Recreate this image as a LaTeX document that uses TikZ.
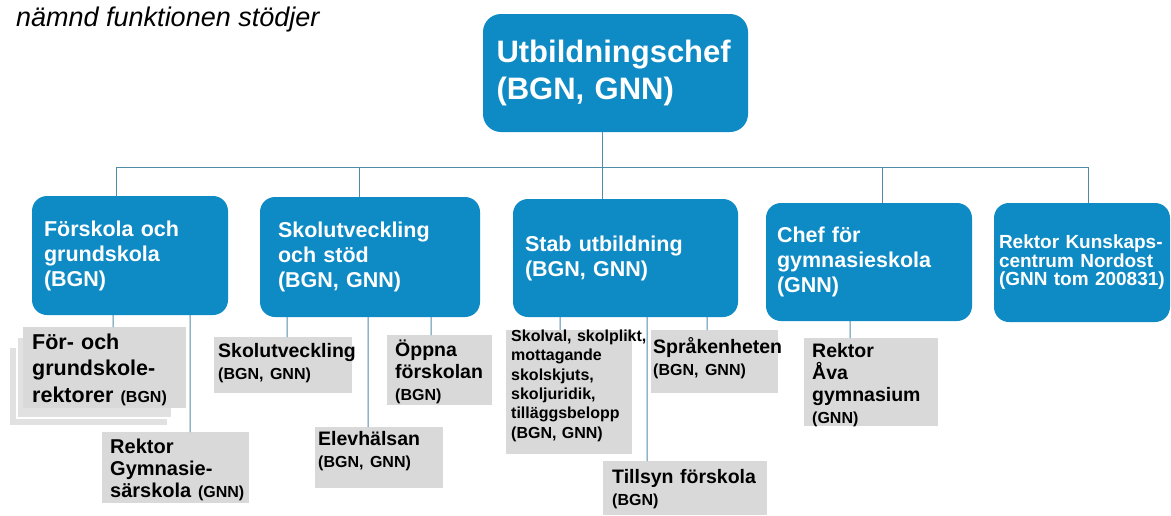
\documentclass[tikz,border=0pt]{standalone}
\usepackage{fontspec}
\setmainfont{Liberation Sans}
\definecolor{blaa}{RGB}{14,138,196}
\definecolor{graa}{RGB}{217,217,217}
\definecolor{streck}{RGB}{80,140,168}
\newcommand{\liten}[1]{{\fontsize{16}{22}\selectfont #1}}
\hyphenpenalty=10000
\exhyphenpenalty=10000
\begin{document}
\begin{tikzpicture}[x=1pt,y=-1pt,
  chefbox/.style={rectangle,rounded corners=15pt,fill=blaa,text=white,inner sep=3pt,align=left,
    font=\bfseries\fontsize{21.5}{25}\selectfont},
  enhet/.style={rectangle,fill=graa,anchor=north west,inner ysep=0pt,align=left,
    font=\bfseries\fontsize{19.5}{22}\selectfont},
  lin/.style={draw=streck,line width=1pt}]
\useasboundingbox (0,0) rectangle (1171,515);

\node[anchor=base west,inner sep=0pt,font=\itshape\fontsize{27}{32}\selectfont] (rubrik) at (16,26) {nämnd funktionen stödjer};

% toppen
\node[chefbox,rounded corners=18pt,minimum width=265pt,minimum height=118pt,text width=238pt,
  font=\bfseries\fontsize{31}{37}\selectfont] (u) at (615.5,73) {Utbildningschef\\(BGN, GNN)};

% avdelningar
\node[chefbox,minimum width=196pt,minimum height=119pt,text width=172pt] (f) at (130,255.5) {Förskola och\\grundskola\\(BGN)};
\node[chefbox,minimum width=220pt,minimum height=120pt,text width=184pt] (s) at (370,257) {Skolutveckling\\och stöd\\(BGN, GNN)};
\node[chefbox,minimum width=225pt,minimum height=118pt,text width=201pt] (st) at (625.5,258) {Stab utbildning\\(BGN, GNN)};
\node[chefbox,minimum width=206pt,minimum height=118pt,text width=184pt] (g) at (869,262) {Chef för\\gymnasieskola\\(GNN)};
\node[chefbox,minimum width=176pt,minimum height=119pt,text width=166pt,
  font=\bfseries\fontsize{19}{18.5}\selectfont] (k) at (1082,262.5) {Rektor Kunskaps-\\centrum Nordost\\(GNN tom 200831)};

% grå rutor
\filldraw[fill=graa!80,draw=white,line width=1.5pt] (9,347) rectangle (168,426);
\filldraw[fill=graa!80,draw=white,line width=1.5pt] (17,337) rectangle (172,418);
\node[enhet,inner xsep=9pt,text width=145pt,text height=22pt,text depth=59pt,
  font=\bfseries\fontsize{21.5}{26.5}\selectfont] (fog) at (23,327) {För- och\\grundskole-\\rektorer~\liten{(BGN)}};
\node[enhet,inner xsep=8pt,text width=131pt,text height=21pt,text depth=50pt,
  font=\bfseries\fontsize{20}{22}\selectfont] (rgs) at (102,432) {Rektor\\Gymnasie-\\särskola~\liten{(GNN)}};
\node[enhet,inner xsep=4pt,text width=130pt,text height=20pt,text depth=36pt] (sut) at (214,337) {Skolutveckling\\\liten{(BGN, GNN)}};
\node[enhet,inner xsep=8pt,text width=89pt,text height=21pt,text depth=49pt] (opp) at (387,335) {Öppna\\förskolan\\\liten{(BGN)}};
\node[enhet,inner xsep=3pt,text width=122pt,text height=18pt,text depth=43pt] (elev) at (315,427) {Elevhälsan\\\liten{(BGN, GNN)}};
\node[enhet,inner xsep=5pt,text width=116pt,text height=11pt,text depth=113pt,
  font=\bfseries\fontsize{16}{19.4}\selectfont] (sv) at (506,330) {Skolval,~skolplikt,\\mottagande\\skolskjuts,\\skoljuridik,\\tilläggsbelopp\\(BGN,~GNN)};
\node[enhet,inner xsep=2pt,text width=123pt,text height=23pt,text depth=40pt] (spr) at (651,330) {Språkenheten\\\liten{(BGN, GNN)}};
\node[enhet,inner xsep=8pt,text width=118pt,text height=19pt,text depth=69pt] (ava) at (804,338) {Rektor\\Åva\\gymnasium\\\liten{(GNN)}};
\node[enhet,inner xsep=9pt,text width=146pt,text height=22pt,text depth=32pt] (till) at (603,461) {Tillsyn~förskola\\\liten{(BGN)}};

% linjer
\coordinate (b1) at (116,167);
\coordinate (b2) at (359,167);
\coordinate (b3) at (602,167);
\coordinate (b4) at (882,167);
\coordinate (b5) at (1088,167);
\draw[lin] (b1) -- (b5);
\draw[lin] (b3 |- u.south) -- (b3 |- st.north);
\draw[lin] (b1) -- (b1 |- f.north);
\draw[lin] (b2) -- (b2 |- s.north);
\draw[lin] (b4) -- (b4 |- g.north);
\draw[lin] (b5) -- (b5 |- k.north);
\draw[lin] ([xshift=-17pt]f.south) -- ([xshift=8.5pt]fog.north);
\draw[lin] ([xshift=60pt]f.south) -- ([xshift=14.5pt]rgs.north);
\draw[lin] ([xshift=-83pt]s.south) -- ([xshift=4pt]sut.north);
\draw[lin] ([xshift=-2pt]s.south) -- ([xshift=-11pt]elev.north);
\draw[lin] ([xshift=61pt]s.south) -- ([xshift=-8.5pt]opp.north);
\draw[lin] ([xshift=-65.5pt]st.south) -- ([xshift=-9pt]sv.north);
\draw[lin] ([xshift=21.5pt]st.south) -- ([xshift=-38pt]till.north);
\draw[lin] ([xshift=81.5pt]st.south) -- ([xshift=-7.5pt]spr.north);
\draw[lin] ([xshift=-19pt]g.south) -- ([xshift=-21pt]ava.north);
\end{tikzpicture}
\end{document}
